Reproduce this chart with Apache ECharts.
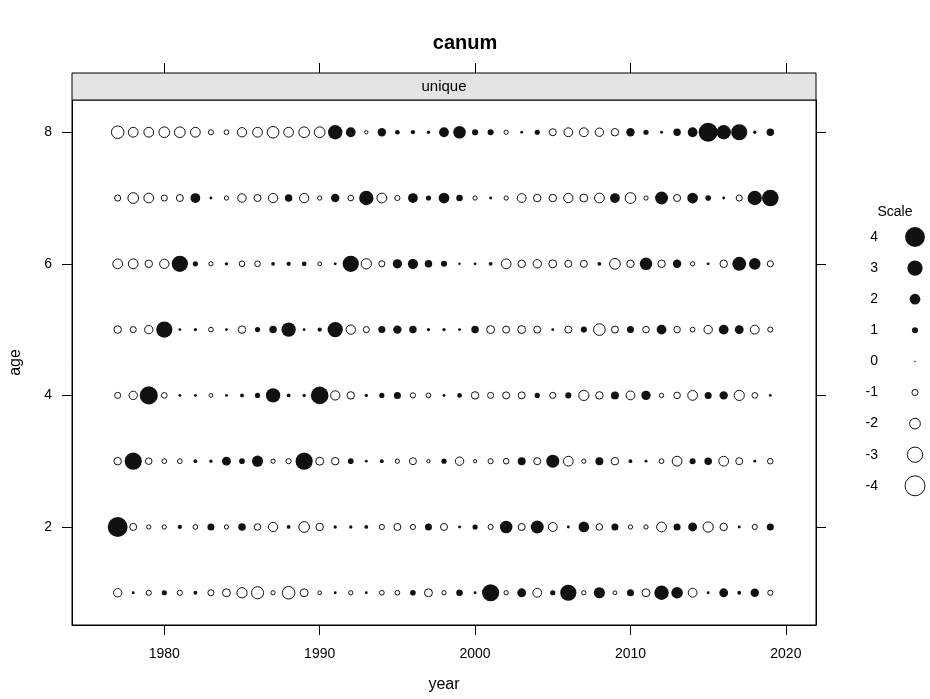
<!DOCTYPE html>
<html>
<head>
<meta charset="utf-8">
<title>canum</title>
<script src="https://cdn.jsdelivr.net/npm/echarts@6/dist/echarts.min.js"></script>
<style>
  html, body { margin: 0; padding: 0; background: #fff; }
  #chart { width: 930px; height: 699px; }
</style>
</head>
<body>
<div id="chart"></div>
<script>
// years 1977..2019 and residuals per age
var years = [];
for (var y = 1977; y <= 2019; y++) years.push(y);

var age1 = [-1.5,0.3,-0.8,0.8,-0.8,0.5,-1,-1.4,-1.9,-2.3, -0.6,-2.4,-1.4,-0.5,0.3,-0.6,0.3,-0.7,-0.7,0.9,
            -1.4,-0.6,1.1,0.3,3.4,-0.6,1.6,-1.6,0.8,3.2, -0.6,2.1,-0.5,1.2,-1.4,2.8,2.2,-1.6,0.3,1.6, 0.5,1.5,-0.8];
var age2 = [4,-1.2,-0.6,-0.6,0.6,-0.7,1.2,-0.6,1.3,-1.1, -1.7,0.5,-2,-1.3,0.4,0.4,0.5,-0.8,-1.2,-0.8,
            1.2,-1.2,0.3,0.8,-0.8,2.4,-1.2,2.5,-1.6,0.3, 2,-1.1,1.2,-0.6,-0.6,-1.8,1.2,1.6,-1.9,-1.3, 0.3,-0.8,1.2];
var age3 = [-1.3,3.4,-1.1,-0.7,-0.7,0.5,0.4,1.6,0.9,2.1, -0.6,-0.8,3.4,-1.4,-1.3,0.9,0.3,0.5,-0.6,-1.2,
            -0.4,0.8,-1.5,-0.4,-0.8,-0.9,1.4,-1.2,2.5,-1.8, -0.6,1.4,-1.3,0.5,0.3,-0.7,-1.8,1,1.3,-1.8, -1.2,0.3,-0.9];
var age4 = [-1,-1.5,3.6,-0.9,0.3,0.3,-0.5,0.3,0.5,0.8, 2.8,0.5,0.4,3.5,-1.7,-1.3,0.4,0.8,1.2,-0.8,
            -0.7,0.3,0.7,-1.3,-1,-1.2,-1.2,0.8,-1,1, -1.9,-1.3,1.4,-1.6,1.7,-0.6,-1.1,-1.8,1.2,1.5, -1.9,-0.9,0.3];
var age5 = [-1.3,-1,-1.5,3.2,0.3,0.4,-0.7,0.3,-1.3,0.8, 1.3,2.8,0.3,0.6,3,-1.7,-1,1.2,1.5,1.3,
            0.4,0.4,0.3,1.3,-1.4,-1.2,-1.4,-1.2,0.3,-1.2, 1,-2.2,-1.2,1.2,-1.1,1.8,-1.1,-0.7,-1.5,1.8, 1.6,-1.6,-0.8];
var age6 = [-1.8,-1.8,-1.3,-1.7,3.2,0.8,-0.6,0.4,-0.9,-0.9, 0.5,0.6,0.7,-0.5,0.3,3.2,-1.9,-1,1.7,1.9,
            1.3,1,0.2,0.3,0.5,-1.8,-1.3,-1.5,-1.4,-1.2, -1.2,0.5,-2,-1.3,2.4,-1.3,1.5,-0.6,0.3,-1.3, 2.7,2.2,-1];
var age7 = [-1,-2,-1.8,-1,-1.2,1.8,0.3,-0.6,-1.5,-1.2, -1.7,1.3,-1.7,-0.6,1.5,-0.9,2.8,-1.8,-0.8,1.8,
            0.8,2,1.1,-0.6,0.3,-0.6,-1.6,-1.3,-1.3,-1.7, -1.4,-1.8,1.8,-2,-0.6,2.5,-1.2,2,0.9,0.3, -1,2.8,3.3];
var age8 = [-2.4,-1.8,-1.8,-2,-2,-1.8,-0.8,-0.7,-1.7,-1.8, -2.2,-1.8,-2,-2,2.8,1.8,-0.4,1.5,0.7,0.6,
            0.4,1.8,2.4,1,1,-0.6,0.3,0.8,-1.2,-1.6, -1.6,-1.5,-1.3,1.5,0.8,0.3,1.3,1.8,3.8,2.8, 3.2,0.4,1.3];

var ages = [1, 2, 3, 4, 5, 6, 7, 8];
var byAge = [age1, age2, age3, age4, age5, age6, age7, age8];
var xTicks = [1980, 1990, 2000, 2010, 2020];
var yTicks = [2, 4, 6, 8];
var scaleValues = [4, 3, 2, 1, 0, -1, -2, -3, -4];

function bubbleSize(v) {
    return 1.5 + 4.6 * Math.abs(v);
}

var posData = [], negData = [];
ages.forEach(function(a, i) {
    byAge[i].forEach(function(v, j) {
        if (v >= 0) posData.push([years[j], a, v]);
        else negData.push([years[j], a, v]);
    });
});

var font = 'Liberation Sans, Arial, sans-serif';
var myChart = echarts.init(document.getElementById('chart'));

// strip + scale key
var graphics = [
    {
        type: 'rect', shape: { x: 72, y: 73, width: 744, height: 27 },
        style: { fill: '#e4e4e4', stroke: '#000', lineWidth: 1 }, z: 10
    },
    {
        type: 'text', x: 444, y: 87, z: 11,
        style: { text: 'unique', font: '15px ' + font, fill: '#000', align: 'center', verticalAlign: 'middle' }
    },
    {
        type: 'text', x: 895, y: 212,
        style: { text: 'Scale', font: '14px ' + font, fill: '#000', align: 'center', verticalAlign: 'middle' }
    }
];
scaleValues.forEach(function(v, i) {
    var cy = 237 + i * 31.1;
    graphics.push({
        type: 'text', x: 878, y: cy,
        style: { text: String(v), font: '14px ' + font, fill: '#000', align: 'right', verticalAlign: 'middle' }
    });
    graphics.push({
        type: 'circle', shape: { cx: 915, cy: cy, r: bubbleSize(v) / 2 },
        style: v >= 0 ? { fill: '#111' } : { fill: '#fff', stroke: '#111', lineWidth: 1 }
    });
});

function plain(v) { return String(v); }

var option = {
    animation: false,
    backgroundColor: '#fff',
    title: {
        text: 'canum', left: 'center', top: 28,
        textStyle: { fontFamily: font, fontSize: 20, fontWeight: 'bold', color: '#000' }
    },
    grid: {
        left: 72, top: 100, width: 744, height: 525,
        show: true, borderColor: '#000', borderWidth: 1, backgroundColor: 'transparent'
    },
    xAxis: [
        {
            type: 'value', position: 'bottom', min: 1974.06, max: 2021.94,
            axisLine: { show: true, lineStyle: { color: '#000' } },
            axisTick: { show: true, customValues: xTicks, length: 10, lineStyle: { color: '#000' } },
            axisLabel: { customValues: xTicks, formatter: plain, fontFamily: font, fontSize: 14, color: '#000', margin: 22 },
            splitLine: { show: false },
            name: 'year', nameLocation: 'middle', nameGap: 52,
            nameTextStyle: { fontFamily: font, fontSize: 16, color: '#000' }
        },
        {
            type: 'value', position: 'top', offset: 27, min: 1974.06, max: 2021.94,
            axisLine: { show: false },
            axisTick: { show: true, customValues: xTicks, length: 10, lineStyle: { color: '#000' } },
            axisLabel: { show: false },
            splitLine: { show: false }
        }
    ],
    yAxis: [
        {
            type: 'value', position: 'left', min: 0.51, max: 8.49,
            axisLine: { show: true, lineStyle: { color: '#000' } },
            axisTick: { show: true, customValues: yTicks, length: 10, lineStyle: { color: '#000' } },
            axisLabel: { customValues: yTicks, formatter: plain, fontFamily: font, fontSize: 14, color: '#000', margin: 20 },
            splitLine: { show: false },
            name: 'age', nameLocation: 'middle', nameGap: 48, nameRotate: 90,
            nameTextStyle: { fontFamily: font, fontSize: 16, color: '#000' }
        },
        {
            type: 'value', position: 'right', min: 0.51, max: 8.49,
            axisLine: { show: true, lineStyle: { color: '#000' } },
            axisTick: { show: true, customValues: yTicks, length: 10, lineStyle: { color: '#000' } },
            axisLabel: { show: false },
            splitLine: { show: false }
        }
    ],
    series: [
        {
            name: 'positive', type: 'scatter', data: posData,
            symbolSize: function(d) { return bubbleSize(d[2]); },
            itemStyle: { color: '#111', opacity: 1 }
        },
        {
            name: 'negative', type: 'scatter', data: negData,
            symbolSize: function(d) { return bubbleSize(d[2]); },
            itemStyle: { color: '#fff', borderColor: '#111', borderWidth: 1, opacity: 1 }
        }
    ],
    graphic: graphics
};
myChart.setOption(option);
</script>
</body>
</html>
